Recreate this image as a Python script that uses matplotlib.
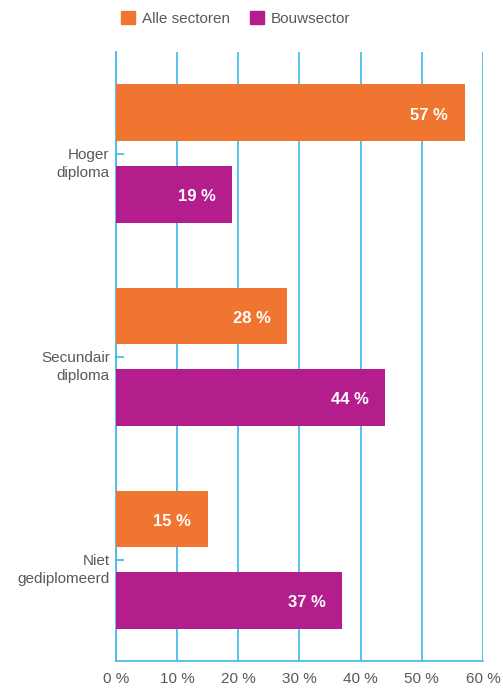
import numpy as np
import matplotlib.pyplot as plt
from matplotlib.patches import Patch

plt.rcParams['font.family'] = ['Liberation Sans', 'DejaVu Sans']

# diplomaniveau per groep
categories = ["Hoger\ndiploma", "Secundair\ndiploma", "Niet\ngediplomeerd"]
series_names = ["Alle sectoren", "Bouwsector"]
alle_sectoren = [57, 28, 15]
bouwsector = [19, 44, 37]
xticks = [0, 10, 20, 30, 40, 50, 60]

c_alle = '#F07530'
c_bouw = '#B41E8C'
c_grid = '#3DB8E8'
c_text = '#58595B'

fig = plt.figure(figsize=(5.03, 6.89), dpi=100)
ax = fig.add_axes([0.2306, 0.0406, 0.7296, 0.8839])

y = np.arange(len(categories))
h = 0.28
off = 0.2

b1 = ax.barh(y - off, alle_sectoren, height=h, color=c_alle, zorder=3)
b2 = ax.barh(y + off, bouwsector, height=h, color=c_bouw, zorder=3)

# waarden in de balken
for bars, vals in ((b1, alle_sectoren), (b2, bouwsector)):
    for bar, v in zip(bars, vals):
        ax.annotate(f"{v} %", xy=(v, bar.get_y() + bar.get_height() / 2),
                    xytext=(-12, -1.5), textcoords='offset points',
                    ha='right', va='center', color='white',
                    fontsize=12, fontweight='bold', zorder=4)

ax.set_xlim(0, 60)
ax.set_ylim(2.5, -0.5)
ax.set_xticks(xticks)
ax.set_xticklabels([f"{t} %" for t in xticks])
ax.set_yticks(y)
ax.set_yticklabels([])

# categorielabels zelf plaatsen: bovenkant net boven de tick
for yi, cat in zip(y, categories):
    ax.annotate(cat, xy=(0, yi), xytext=(-4.5, 4), textcoords='offset points',
                ha='right', va='top', multialignment='right', linespacing=1.35,
                fontsize=11, color=c_text, annotation_clip=False)

ax.grid(axis='x', color=c_grid, lw=1.2, zorder=1)
ax.set_axisbelow(True)
for s in ('top', 'right'):
    ax.spines[s].set_visible(False)
ax.spines['left'].set_color(c_grid)
ax.spines['bottom'].set_color(c_grid)
ax.spines['left'].set_linewidth(1.2)
ax.spines['bottom'].set_linewidth(1.2)

ax.tick_params(axis='x', length=0, pad=8, labelsize=11, labelcolor=c_text)
ax.tick_params(axis='y', direction='in', length=6, width=1.2, color=c_grid)

handles = [Patch(color=c_alle), Patch(color=c_bouw)]
fig.legend(handles, series_names, loc='upper left', bbox_to_anchor=(0.214, 1.004),
           ncol=2, frameon=False, fontsize=11, handlelength=0.9,
           handleheight=0.9, handletextpad=0.45, columnspacing=1.3,
           labelcolor=c_text)

fig.savefig('out.png', dpi=100)
